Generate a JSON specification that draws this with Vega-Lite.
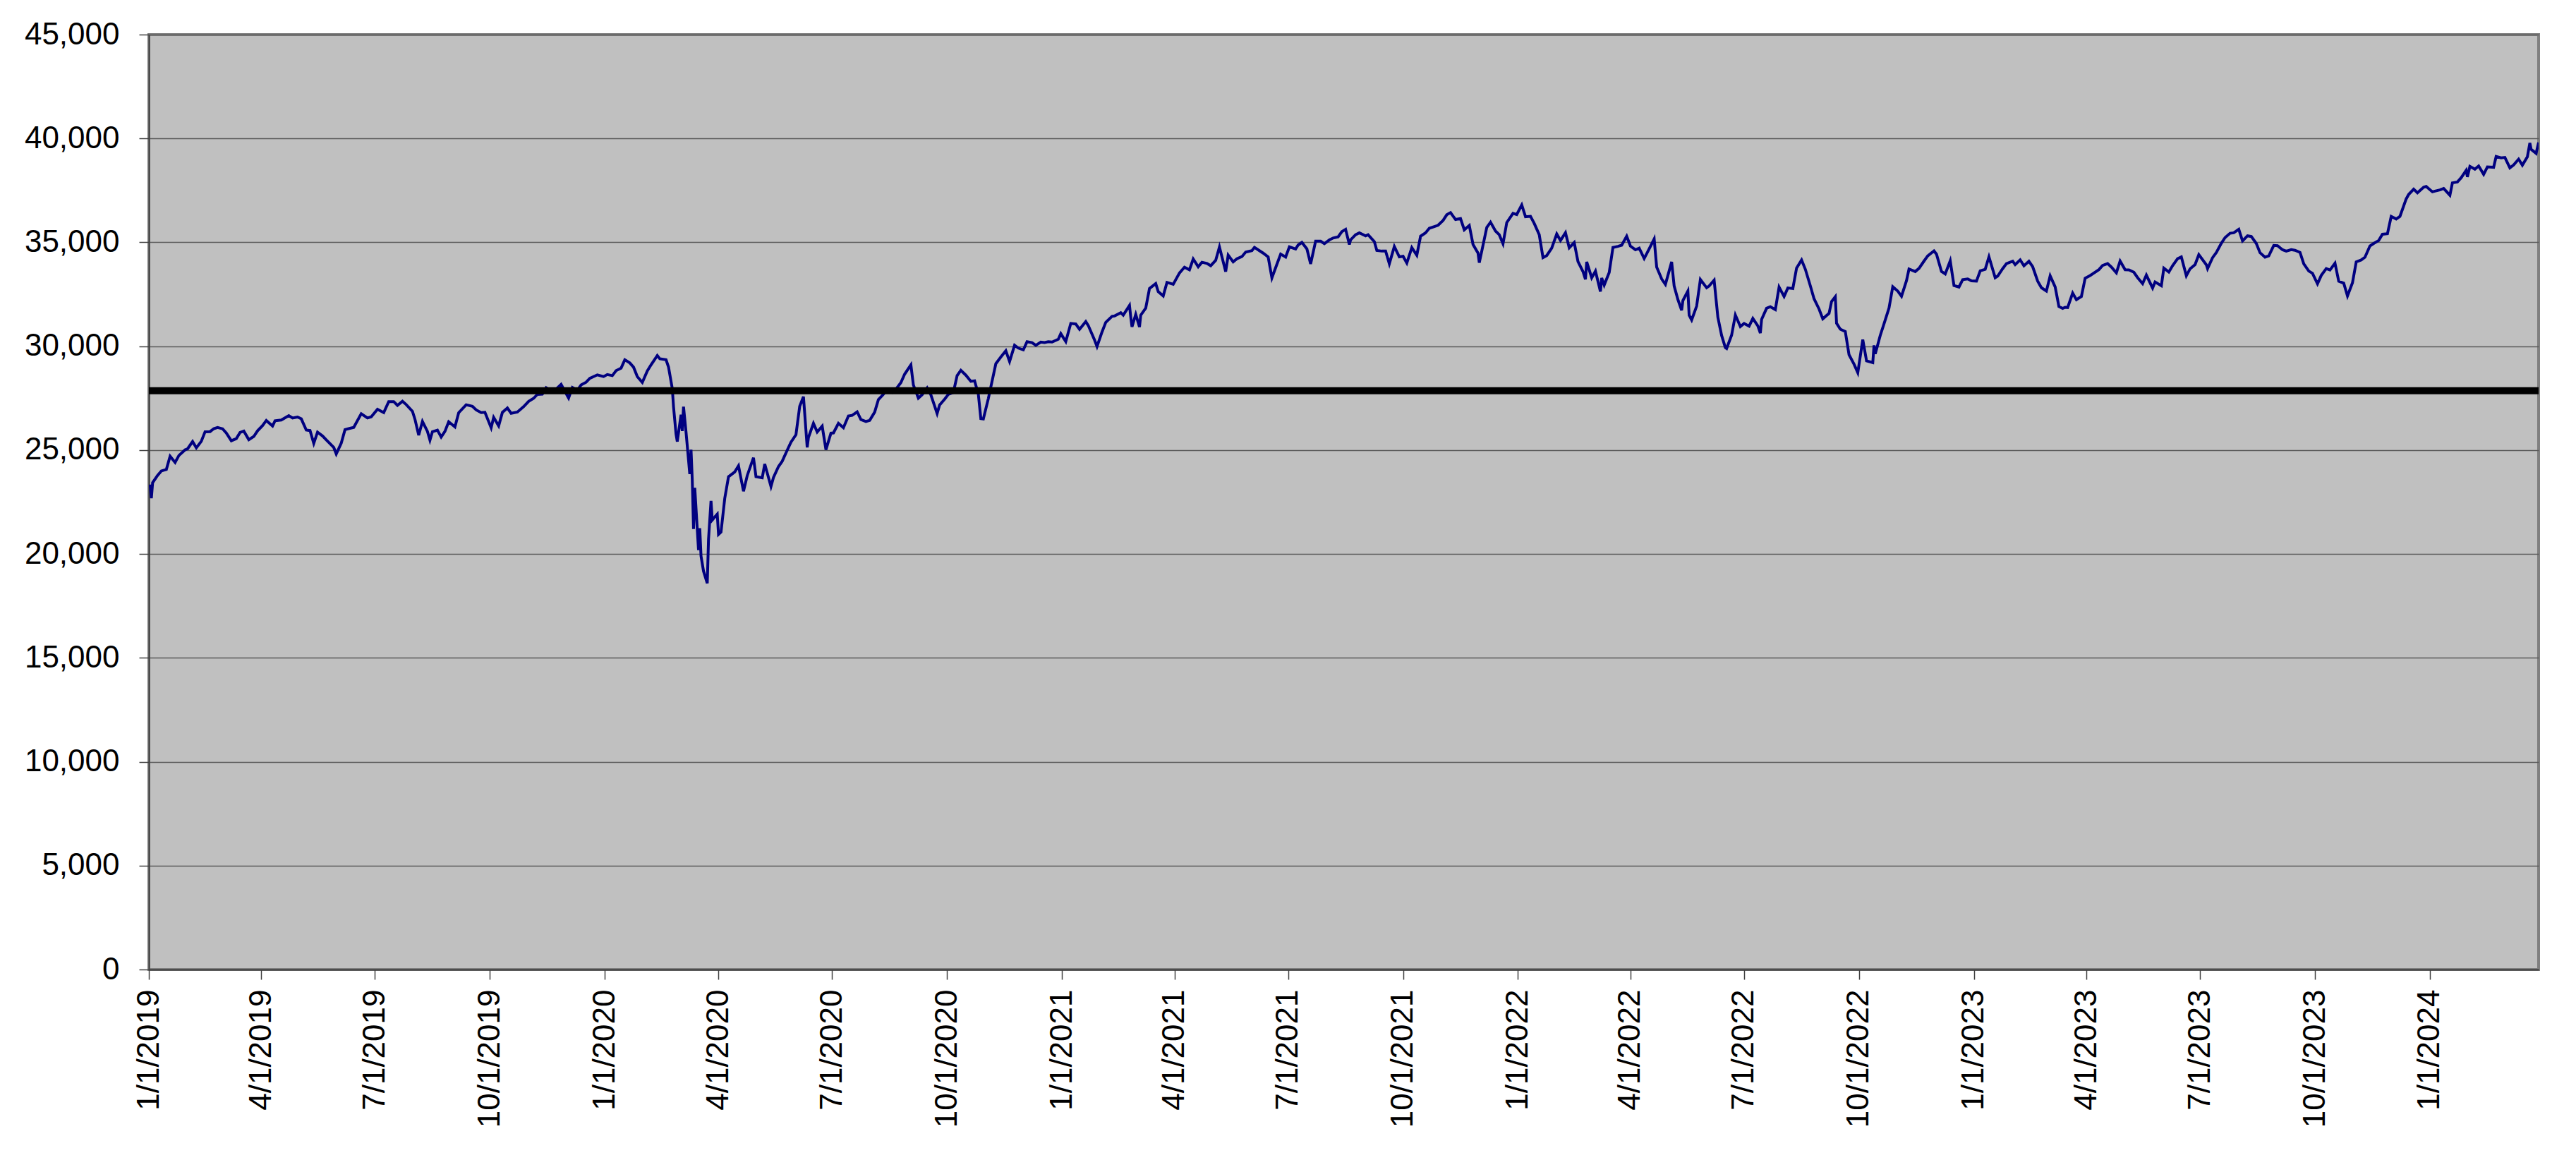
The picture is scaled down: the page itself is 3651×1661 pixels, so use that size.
{
  "$schema": "https://vega.github.io/schema/vega-lite/v6.json",
  "autosize": "none",
  "width": 3387,
  "height": 1325,
  "padding": {"left": 211, "top": 49, "right": 53, "bottom": 287},
  "background": "white",
  "config": {
    "view": {"fill": "#C0C0C0", "stroke": "#808080", "strokeWidth": 4},
    "axis": {
      "labelFont": "Liberation Sans",
      "labelFontSize": 44,
      "labelColor": "black",
      "labelLimit": 0,
      "tickColor": "#404040",
      "tickWidth": 1.5,
      "tickSize": 14,
      "domainColor": "#404040",
      "domainWidth": 2,
      "title": null
    }
  },
  "datasets": {
    "dow": [
      {"d": "2019-01-02", "v": 23346}, {"d": "2019-01-03", "v": 22686}, {"d": "2019-01-04", "v": 23433}, {"d": "2019-01-08", "v": 23787},
      {"d": "2019-01-11", "v": 23996}, {"d": "2019-01-15", "v": 24066}, {"d": "2019-01-18", "v": 24706}, {"d": "2019-01-22", "v": 24404},
      {"d": "2019-01-25", "v": 24737}, {"d": "2019-01-30", "v": 25014}, {"d": "2019-02-01", "v": 25064}, {"d": "2019-02-05", "v": 25411},
      {"d": "2019-02-08", "v": 25106}, {"d": "2019-02-12", "v": 25426}, {"d": "2019-02-15", "v": 25883}, {"d": "2019-02-19", "v": 25891},
      {"d": "2019-02-22", "v": 26031}, {"d": "2019-02-25", "v": 26091}, {"d": "2019-03-01", "v": 26026}, {"d": "2019-03-04", "v": 25820},
      {"d": "2019-03-08", "v": 25450}, {"d": "2019-03-12", "v": 25555}, {"d": "2019-03-15", "v": 25849}, {"d": "2019-03-18", "v": 25914},
      {"d": "2019-03-22", "v": 25502}, {"d": "2019-03-26", "v": 25657}, {"d": "2019-03-29", "v": 25929}, {"d": "2019-04-02", "v": 26180},
      {"d": "2019-04-05", "v": 26425}, {"d": "2019-04-10", "v": 26157}, {"d": "2019-04-12", "v": 26412}, {"d": "2019-04-17", "v": 26450},
      {"d": "2019-04-23", "v": 26656}, {"d": "2019-04-26", "v": 26543}, {"d": "2019-04-30", "v": 26593}, {"d": "2019-05-03", "v": 26505},
      {"d": "2019-05-07", "v": 25965}, {"d": "2019-05-10", "v": 25942}, {"d": "2019-05-13", "v": 25324}, {"d": "2019-05-16", "v": 25863},
      {"d": "2019-05-20", "v": 25680}, {"d": "2019-05-23", "v": 25490}, {"d": "2019-05-29", "v": 25126}, {"d": "2019-05-31", "v": 24815},
      {"d": "2019-06-04", "v": 25332}, {"d": "2019-06-07", "v": 25984}, {"d": "2019-06-11", "v": 26048}, {"d": "2019-06-14", "v": 26090},
      {"d": "2019-06-20", "v": 26753}, {"d": "2019-06-25", "v": 26548}, {"d": "2019-06-28", "v": 26600}, {"d": "2019-07-03", "v": 26966},
      {"d": "2019-07-08", "v": 26806}, {"d": "2019-07-12", "v": 27332}, {"d": "2019-07-16", "v": 27335}, {"d": "2019-07-19", "v": 27154},
      {"d": "2019-07-23", "v": 27349}, {"d": "2019-07-26", "v": 27192}, {"d": "2019-07-31", "v": 26864}, {"d": "2019-08-02", "v": 26485},
      {"d": "2019-08-05", "v": 25718}, {"d": "2019-08-08", "v": 26378}, {"d": "2019-08-12", "v": 25897}, {"d": "2019-08-14", "v": 25479},
      {"d": "2019-08-16", "v": 25886}, {"d": "2019-08-20", "v": 25962}, {"d": "2019-08-23", "v": 25628}, {"d": "2019-08-26", "v": 25899},
      {"d": "2019-08-29", "v": 26362}, {"d": "2019-09-03", "v": 26118}, {"d": "2019-09-06", "v": 26797}, {"d": "2019-09-12", "v": 27182},
      {"d": "2019-09-17", "v": 27110}, {"d": "2019-09-20", "v": 26935}, {"d": "2019-09-24", "v": 26808}, {"d": "2019-09-27", "v": 26820},
      {"d": "2019-10-02", "v": 26078}, {"d": "2019-10-04", "v": 26573}, {"d": "2019-10-08", "v": 26164}, {"d": "2019-10-11", "v": 26817},
      {"d": "2019-10-15", "v": 27025}, {"d": "2019-10-18", "v": 26770}, {"d": "2019-10-23", "v": 26833}, {"d": "2019-10-28", "v": 27091},
      {"d": "2019-11-01", "v": 27347}, {"d": "2019-11-05", "v": 27492}, {"d": "2019-11-08", "v": 27681}, {"d": "2019-11-12", "v": 27691},
      {"d": "2019-11-15", "v": 28005}, {"d": "2019-11-20", "v": 27821}, {"d": "2019-11-22", "v": 27876}, {"d": "2019-11-27", "v": 28164},
      {"d": "2019-12-03", "v": 27503}, {"d": "2019-12-06", "v": 28015}, {"d": "2019-12-10", "v": 27881}, {"d": "2019-12-13", "v": 28135},
      {"d": "2019-12-17", "v": 28267}, {"d": "2019-12-20", "v": 28455}, {"d": "2019-12-26", "v": 28621}, {"d": "2019-12-31", "v": 28538},
      {"d": "2020-01-03", "v": 28635}, {"d": "2020-01-07", "v": 28584}, {"d": "2020-01-10", "v": 28824}, {"d": "2020-01-14", "v": 28940},
      {"d": "2020-01-17", "v": 29348}, {"d": "2020-01-21", "v": 29196}, {"d": "2020-01-24", "v": 28990}, {"d": "2020-01-27", "v": 28536},
      {"d": "2020-01-31", "v": 28256}, {"d": "2020-02-04", "v": 28808}, {"d": "2020-02-07", "v": 29103}, {"d": "2020-02-12", "v": 29551},
      {"d": "2020-02-14", "v": 29398}, {"d": "2020-02-19", "v": 29348}, {"d": "2020-02-21", "v": 28992}, {"d": "2020-02-24", "v": 27961},
      {"d": "2020-02-25", "v": 27081}, {"d": "2020-02-27", "v": 25767}, {"d": "2020-02-28", "v": 25409}, {"d": "2020-03-02", "v": 26703},
      {"d": "2020-03-03", "v": 25917}, {"d": "2020-03-04", "v": 27091}, {"d": "2020-03-06", "v": 25865}, {"d": "2020-03-09", "v": 23851},
      {"d": "2020-03-10", "v": 25018}, {"d": "2020-03-11", "v": 23553}, {"d": "2020-03-12", "v": 21200}, {"d": "2020-03-13", "v": 23186},
      {"d": "2020-03-16", "v": 20189}, {"d": "2020-03-17", "v": 21237}, {"d": "2020-03-18", "v": 19899}, {"d": "2020-03-20", "v": 19174},
      {"d": "2020-03-23", "v": 18592}, {"d": "2020-03-24", "v": 20705}, {"d": "2020-03-26", "v": 22552}, {"d": "2020-03-27", "v": 21637},
      {"d": "2020-03-31", "v": 21917}, {"d": "2020-04-01", "v": 20943}, {"d": "2020-04-03", "v": 21053}, {"d": "2020-04-06", "v": 22680},
      {"d": "2020-04-09", "v": 23719}, {"d": "2020-04-14", "v": 23950}, {"d": "2020-04-17", "v": 24242}, {"d": "2020-04-21", "v": 23019},
      {"d": "2020-04-24", "v": 23775}, {"d": "2020-04-29", "v": 24634}, {"d": "2020-05-01", "v": 23724}, {"d": "2020-05-06", "v": 23664},
      {"d": "2020-05-08", "v": 24331}, {"d": "2020-05-13", "v": 23248}, {"d": "2020-05-15", "v": 23685}, {"d": "2020-05-19", "v": 24207},
      {"d": "2020-05-22", "v": 24465}, {"d": "2020-05-26", "v": 24995}, {"d": "2020-05-29", "v": 25383}, {"d": "2020-06-02", "v": 25742},
      {"d": "2020-06-05", "v": 27111}, {"d": "2020-06-08", "v": 27572}, {"d": "2020-06-11", "v": 25128}, {"d": "2020-06-12", "v": 25605},
      {"d": "2020-06-16", "v": 26290}, {"d": "2020-06-19", "v": 25871}, {"d": "2020-06-23", "v": 26156}, {"d": "2020-06-26", "v": 25016},
      {"d": "2020-06-30", "v": 25813}, {"d": "2020-07-02", "v": 25827}, {"d": "2020-07-06", "v": 26287}, {"d": "2020-07-10", "v": 26075},
      {"d": "2020-07-14", "v": 26643}, {"d": "2020-07-17", "v": 26672}, {"d": "2020-07-21", "v": 26840}, {"d": "2020-07-24", "v": 26470},
      {"d": "2020-07-28", "v": 26379}, {"d": "2020-07-31", "v": 26428}, {"d": "2020-08-04", "v": 26828}, {"d": "2020-08-07", "v": 27433},
      {"d": "2020-08-11", "v": 27687}, {"d": "2020-08-14", "v": 27931}, {"d": "2020-08-18", "v": 27778}, {"d": "2020-08-21", "v": 27930},
      {"d": "2020-08-25", "v": 28249}, {"d": "2020-08-28", "v": 28654}, {"d": "2020-09-02", "v": 29100}, {"d": "2020-09-04", "v": 28133},
      {"d": "2020-09-08", "v": 27500}, {"d": "2020-09-11", "v": 27666}, {"d": "2020-09-15", "v": 27995}, {"d": "2020-09-18", "v": 27657},
      {"d": "2020-09-23", "v": 26763}, {"d": "2020-09-25", "v": 27174}, {"d": "2020-09-29", "v": 27452}, {"d": "2020-10-02", "v": 27683},
      {"d": "2020-10-06", "v": 27773}, {"d": "2020-10-09", "v": 28587}, {"d": "2020-10-12", "v": 28838}, {"d": "2020-10-16", "v": 28606},
      {"d": "2020-10-20", "v": 28309}, {"d": "2020-10-23", "v": 28336}, {"d": "2020-10-26", "v": 27685}, {"d": "2020-10-28", "v": 26520},
      {"d": "2020-10-30", "v": 26502}, {"d": "2020-11-03", "v": 27480}, {"d": "2020-11-06", "v": 28323}, {"d": "2020-11-09", "v": 29158},
      {"d": "2020-11-13", "v": 29480}, {"d": "2020-11-17", "v": 29784}, {"d": "2020-11-20", "v": 29263}, {"d": "2020-11-24", "v": 30046},
      {"d": "2020-11-27", "v": 29910}, {"d": "2020-12-01", "v": 29824}, {"d": "2020-12-04", "v": 30218}, {"d": "2020-12-08", "v": 30174},
      {"d": "2020-12-11", "v": 30046}, {"d": "2020-12-15", "v": 30200}, {"d": "2020-12-18", "v": 30179}, {"d": "2020-12-21", "v": 30216},
      {"d": "2020-12-24", "v": 30200}, {"d": "2020-12-29", "v": 30336}, {"d": "2020-12-31", "v": 30606},
      {"d": "2021-01-04", "v": 30224}, {"d": "2021-01-08", "v": 31098}, {"d": "2021-01-12", "v": 31069}, {"d": "2021-01-15", "v": 30814},
      {"d": "2021-01-20", "v": 31188}, {"d": "2021-01-22", "v": 30997}, {"d": "2021-01-27", "v": 30303}, {"d": "2021-01-29", "v": 29983},
      {"d": "2021-02-02", "v": 30688}, {"d": "2021-02-05", "v": 31148}, {"d": "2021-02-10", "v": 31438}, {"d": "2021-02-12", "v": 31458},
      {"d": "2021-02-17", "v": 31613}, {"d": "2021-02-19", "v": 31494}, {"d": "2021-02-24", "v": 31962}, {"d": "2021-02-25", "v": 31403},
      {"d": "2021-02-26", "v": 30932}, {"d": "2021-03-01", "v": 31536}, {"d": "2021-03-04", "v": 30924}, {"d": "2021-03-05", "v": 31496},
      {"d": "2021-03-09", "v": 31833}, {"d": "2021-03-12", "v": 32779}, {"d": "2021-03-17", "v": 33015}, {"d": "2021-03-19", "v": 32628},
      {"d": "2021-03-23", "v": 32423}, {"d": "2021-03-26", "v": 33073}, {"d": "2021-03-31", "v": 32982}, {"d": "2021-04-05", "v": 33527},
      {"d": "2021-04-09", "v": 33801}, {"d": "2021-04-13", "v": 33678}, {"d": "2021-04-16", "v": 34200}, {"d": "2021-04-20", "v": 33822},
      {"d": "2021-04-23", "v": 34043}, {"d": "2021-04-27", "v": 33985}, {"d": "2021-04-30", "v": 33875}, {"d": "2021-05-04", "v": 34133},
      {"d": "2021-05-07", "v": 34778}, {"d": "2021-05-12", "v": 33587}, {"d": "2021-05-14", "v": 34382}, {"d": "2021-05-18", "v": 34061},
      {"d": "2021-05-21", "v": 34208}, {"d": "2021-05-25", "v": 34313}, {"d": "2021-05-28", "v": 34529}, {"d": "2021-06-02", "v": 34600},
      {"d": "2021-06-04", "v": 34756}, {"d": "2021-06-08", "v": 34600}, {"d": "2021-06-11", "v": 34480}, {"d": "2021-06-15", "v": 34299},
      {"d": "2021-06-18", "v": 33290}, {"d": "2021-06-22", "v": 33945}, {"d": "2021-06-25", "v": 34433}, {"d": "2021-06-29", "v": 34292},
      {"d": "2021-07-02", "v": 34786}, {"d": "2021-07-07", "v": 34681}, {"d": "2021-07-09", "v": 34870}, {"d": "2021-07-12", "v": 34996},
      {"d": "2021-07-16", "v": 34687}, {"d": "2021-07-19", "v": 33962}, {"d": "2021-07-23", "v": 35061}, {"d": "2021-07-27", "v": 35058},
      {"d": "2021-07-30", "v": 34935}, {"d": "2021-08-03", "v": 35116}, {"d": "2021-08-06", "v": 35209}, {"d": "2021-08-10", "v": 35264},
      {"d": "2021-08-13", "v": 35515}, {"d": "2021-08-16", "v": 35625}, {"d": "2021-08-19", "v": 34894}, {"d": "2021-08-20", "v": 35120},
      {"d": "2021-08-24", "v": 35367}, {"d": "2021-08-27", "v": 35455}, {"d": "2021-09-01", "v": 35313}, {"d": "2021-09-03", "v": 35369},
      {"d": "2021-09-08", "v": 35031}, {"d": "2021-09-10", "v": 34607}, {"d": "2021-09-14", "v": 34578}, {"d": "2021-09-17", "v": 34584},
      {"d": "2021-09-20", "v": 33970}, {"d": "2021-09-24", "v": 34798}, {"d": "2021-09-28", "v": 34299}, {"d": "2021-10-01", "v": 34326},
      {"d": "2021-10-04", "v": 34002}, {"d": "2021-10-08", "v": 34746}, {"d": "2021-10-12", "v": 34378}, {"d": "2021-10-15", "v": 35295},
      {"d": "2021-10-19", "v": 35458}, {"d": "2021-10-22", "v": 35677}, {"d": "2021-10-26", "v": 35757}, {"d": "2021-10-29", "v": 35820},
      {"d": "2021-11-02", "v": 36053}, {"d": "2021-11-05", "v": 36328}, {"d": "2021-11-08", "v": 36432}, {"d": "2021-11-12", "v": 36100},
      {"d": "2021-11-16", "v": 36143}, {"d": "2021-11-19", "v": 35602}, {"d": "2021-11-23", "v": 35814}, {"d": "2021-11-26", "v": 34899},
      {"d": "2021-11-30", "v": 34484}, {"d": "2021-12-01", "v": 34022}, {"d": "2021-12-03", "v": 34580}, {"d": "2021-12-07", "v": 35720},
      {"d": "2021-12-10", "v": 35971}, {"d": "2021-12-14", "v": 35544}, {"d": "2021-12-17", "v": 35365}, {"d": "2021-12-20", "v": 34932},
      {"d": "2021-12-23", "v": 35950}, {"d": "2021-12-28", "v": 36398}, {"d": "2021-12-31", "v": 36338},
      {"d": "2022-01-04", "v": 36800}, {"d": "2022-01-07", "v": 36231}, {"d": "2022-01-11", "v": 36252}, {"d": "2022-01-14", "v": 35912},
      {"d": "2022-01-18", "v": 35369}, {"d": "2022-01-21", "v": 34265}, {"d": "2022-01-24", "v": 34365}, {"d": "2022-01-28", "v": 34725},
      {"d": "2022-02-01", "v": 35405}, {"d": "2022-02-04", "v": 35089}, {"d": "2022-02-08", "v": 35463}, {"d": "2022-02-11", "v": 34738},
      {"d": "2022-02-15", "v": 34989}, {"d": "2022-02-18", "v": 34079}, {"d": "2022-02-22", "v": 33597}, {"d": "2022-02-24", "v": 33223},
      {"d": "2022-02-25", "v": 34059}, {"d": "2022-03-01", "v": 33294}, {"d": "2022-03-04", "v": 33615}, {"d": "2022-03-08", "v": 32632},
      {"d": "2022-03-09", "v": 33286}, {"d": "2022-03-11", "v": 32945}, {"d": "2022-03-15", "v": 33545}, {"d": "2022-03-18", "v": 34754},
      {"d": "2022-03-22", "v": 34808}, {"d": "2022-03-25", "v": 34861}, {"d": "2022-03-29", "v": 35294}, {"d": "2022-04-01", "v": 34818},
      {"d": "2022-04-05", "v": 34642}, {"d": "2022-04-08", "v": 34721}, {"d": "2022-04-12", "v": 34221}, {"d": "2022-04-14", "v": 34451},
      {"d": "2022-04-20", "v": 35160}, {"d": "2022-04-22", "v": 33811}, {"d": "2022-04-26", "v": 33240}, {"d": "2022-04-29", "v": 32977},
      {"d": "2022-05-04", "v": 34061}, {"d": "2022-05-06", "v": 32899}, {"d": "2022-05-09", "v": 32246}, {"d": "2022-05-12", "v": 31730},
      {"d": "2022-05-13", "v": 32197}, {"d": "2022-05-17", "v": 32655}, {"d": "2022-05-18", "v": 31490}, {"d": "2022-05-20", "v": 31262},
      {"d": "2022-05-24", "v": 31929}, {"d": "2022-05-27", "v": 33213}, {"d": "2022-06-01", "v": 32813}, {"d": "2022-06-03", "v": 32900},
      {"d": "2022-06-07", "v": 33180}, {"d": "2022-06-10", "v": 31393}, {"d": "2022-06-13", "v": 30517}, {"d": "2022-06-16", "v": 29927},
      {"d": "2022-06-17", "v": 29888}, {"d": "2022-06-21", "v": 30530}, {"d": "2022-06-24", "v": 31501}, {"d": "2022-06-28", "v": 30947},
      {"d": "2022-07-01", "v": 31097}, {"d": "2022-07-05", "v": 30968}, {"d": "2022-07-08", "v": 31338}, {"d": "2022-07-12", "v": 30981},
      {"d": "2022-07-14", "v": 30630}, {"d": "2022-07-15", "v": 31288}, {"d": "2022-07-19", "v": 31827}, {"d": "2022-07-22", "v": 31899},
      {"d": "2022-07-26", "v": 31762}, {"d": "2022-07-29", "v": 32845}, {"d": "2022-08-02", "v": 32397}, {"d": "2022-08-05", "v": 32803},
      {"d": "2022-08-09", "v": 32775}, {"d": "2022-08-12", "v": 33761}, {"d": "2022-08-16", "v": 34152}, {"d": "2022-08-19", "v": 33706},
      {"d": "2022-08-23", "v": 32910}, {"d": "2022-08-26", "v": 32283}, {"d": "2022-08-30", "v": 31791}, {"d": "2022-09-02", "v": 31318},
      {"d": "2022-09-07", "v": 31581}, {"d": "2022-09-09", "v": 32151}, {"d": "2022-09-12", "v": 32381}, {"d": "2022-09-13", "v": 31105},
      {"d": "2022-09-16", "v": 30822}, {"d": "2022-09-20", "v": 30706}, {"d": "2022-09-23", "v": 29590}, {"d": "2022-09-27", "v": 29135},
      {"d": "2022-09-30", "v": 28726}, {"d": "2022-10-04", "v": 30317}, {"d": "2022-10-07", "v": 29297}, {"d": "2022-10-12", "v": 29210},
      {"d": "2022-10-13", "v": 30039}, {"d": "2022-10-14", "v": 29635}, {"d": "2022-10-18", "v": 30524}, {"d": "2022-10-21", "v": 31083},
      {"d": "2022-10-25", "v": 31837}, {"d": "2022-10-28", "v": 32862}, {"d": "2022-11-01", "v": 32653}, {"d": "2022-11-04", "v": 32403},
      {"d": "2022-11-08", "v": 33160}, {"d": "2022-11-10", "v": 33716}, {"d": "2022-11-15", "v": 33593}, {"d": "2022-11-18", "v": 33746},
      {"d": "2022-11-22", "v": 34098}, {"d": "2022-11-25", "v": 34347}, {"d": "2022-11-30", "v": 34590}, {"d": "2022-12-02", "v": 34430},
      {"d": "2022-12-06", "v": 33597}, {"d": "2022-12-09", "v": 33477}, {"d": "2022-12-13", "v": 34109}, {"d": "2022-12-16", "v": 32920},
      {"d": "2022-12-20", "v": 32850}, {"d": "2022-12-23", "v": 33204}, {"d": "2022-12-27", "v": 33241}, {"d": "2022-12-30", "v": 33147},
      {"d": "2023-01-03", "v": 33136}, {"d": "2023-01-06", "v": 33631}, {"d": "2023-01-10", "v": 33704}, {"d": "2023-01-13", "v": 34303},
      {"d": "2023-01-18", "v": 33297}, {"d": "2023-01-20", "v": 33375}, {"d": "2023-01-24", "v": 33734}, {"d": "2023-01-27", "v": 33978},
      {"d": "2023-02-01", "v": 34093}, {"d": "2023-02-03", "v": 33926}, {"d": "2023-02-07", "v": 34156}, {"d": "2023-02-10", "v": 33869},
      {"d": "2023-02-14", "v": 34089}, {"d": "2023-02-17", "v": 33827}, {"d": "2023-02-21", "v": 33130}, {"d": "2023-02-24", "v": 32817},
      {"d": "2023-02-28", "v": 32657}, {"d": "2023-03-03", "v": 33391}, {"d": "2023-03-07", "v": 32856}, {"d": "2023-03-10", "v": 31910},
      {"d": "2023-03-13", "v": 31820}, {"d": "2023-03-15", "v": 31875}, {"d": "2023-03-17", "v": 31862}, {"d": "2023-03-21", "v": 32560},
      {"d": "2023-03-24", "v": 32238}, {"d": "2023-03-28", "v": 32394}, {"d": "2023-03-31", "v": 33274}, {"d": "2023-04-04", "v": 33402},
      {"d": "2023-04-06", "v": 33485}, {"d": "2023-04-11", "v": 33685}, {"d": "2023-04-14", "v": 33886}, {"d": "2023-04-18", "v": 33977},
      {"d": "2023-04-21", "v": 33809}, {"d": "2023-04-25", "v": 33531}, {"d": "2023-04-28", "v": 34098}, {"d": "2023-05-02", "v": 33684},
      {"d": "2023-05-05", "v": 33674}, {"d": "2023-05-09", "v": 33562}, {"d": "2023-05-12", "v": 33301}, {"d": "2023-05-16", "v": 33012},
      {"d": "2023-05-19", "v": 33427}, {"d": "2023-05-24", "v": 32800}, {"d": "2023-05-26", "v": 33093}, {"d": "2023-05-31", "v": 32908},
      {"d": "2023-06-02", "v": 33763}, {"d": "2023-06-06", "v": 33573}, {"d": "2023-06-09", "v": 33877}, {"d": "2023-06-13", "v": 34212},
      {"d": "2023-06-16", "v": 34299}, {"d": "2023-06-20", "v": 33389}, {"d": "2023-06-23", "v": 33727}, {"d": "2023-06-27", "v": 33926},
      {"d": "2023-06-30", "v": 34408}, {"d": "2023-07-06", "v": 33922}, {"d": "2023-07-07", "v": 33735}, {"d": "2023-07-11", "v": 34262},
      {"d": "2023-07-14", "v": 34509}, {"d": "2023-07-18", "v": 34952}, {"d": "2023-07-21", "v": 35228}, {"d": "2023-07-25", "v": 35438},
      {"d": "2023-07-28", "v": 35459}, {"d": "2023-08-01", "v": 35630}, {"d": "2023-08-04", "v": 35066}, {"d": "2023-08-08", "v": 35314},
      {"d": "2023-08-11", "v": 35281}, {"d": "2023-08-15", "v": 34946}, {"d": "2023-08-18", "v": 34501}, {"d": "2023-08-22", "v": 34289},
      {"d": "2023-08-25", "v": 34347}, {"d": "2023-08-29", "v": 34852}, {"d": "2023-09-01", "v": 34838}, {"d": "2023-09-05", "v": 34642},
      {"d": "2023-09-08", "v": 34577}, {"d": "2023-09-12", "v": 34646}, {"d": "2023-09-15", "v": 34618}, {"d": "2023-09-19", "v": 34518},
      {"d": "2023-09-22", "v": 33964}, {"d": "2023-09-26", "v": 33619}, {"d": "2023-09-29", "v": 33508}, {"d": "2023-10-03", "v": 33002},
      {"d": "2023-10-06", "v": 33408}, {"d": "2023-10-10", "v": 33740}, {"d": "2023-10-13", "v": 33671}, {"d": "2023-10-17", "v": 33998},
      {"d": "2023-10-20", "v": 33127}, {"d": "2023-10-24", "v": 33036}, {"d": "2023-10-27", "v": 32418}, {"d": "2023-10-31", "v": 33053},
      {"d": "2023-11-03", "v": 34061}, {"d": "2023-11-07", "v": 34153}, {"d": "2023-11-10", "v": 34283}, {"d": "2023-11-14", "v": 34828},
      {"d": "2023-11-17", "v": 34947}, {"d": "2023-11-21", "v": 35088}, {"d": "2023-11-24", "v": 35390}, {"d": "2023-11-28", "v": 35416},
      {"d": "2023-12-01", "v": 36246}, {"d": "2023-12-05", "v": 36125}, {"d": "2023-12-08", "v": 36248}, {"d": "2023-12-13", "v": 37090},
      {"d": "2023-12-15", "v": 37306}, {"d": "2023-12-19", "v": 37558}, {"d": "2023-12-22", "v": 37386}, {"d": "2023-12-27", "v": 37657},
      {"d": "2023-12-29", "v": 37690},
      {"d": "2024-01-03", "v": 37430}, {"d": "2024-01-05", "v": 37466}, {"d": "2024-01-09", "v": 37525}, {"d": "2024-01-12", "v": 37593},
      {"d": "2024-01-17", "v": 37267}, {"d": "2024-01-19", "v": 37864}, {"d": "2024-01-23", "v": 37905}, {"d": "2024-01-26", "v": 38109},
      {"d": "2024-01-30", "v": 38467}, {"d": "2024-01-31", "v": 38150}, {"d": "2024-02-02", "v": 38654}, {"d": "2024-02-06", "v": 38521},
      {"d": "2024-02-09", "v": 38672}, {"d": "2024-02-13", "v": 38273}, {"d": "2024-02-16", "v": 38628}, {"d": "2024-02-21", "v": 38612},
      {"d": "2024-02-23", "v": 39131}, {"d": "2024-02-27", "v": 39069}, {"d": "2024-03-01", "v": 39087}, {"d": "2024-03-05", "v": 38585},
      {"d": "2024-03-08", "v": 38723}, {"d": "2024-03-12", "v": 39005}, {"d": "2024-03-15", "v": 38715}, {"d": "2024-03-19", "v": 39111},
      {"d": "2024-03-21", "v": 39781}, {"d": "2024-03-22", "v": 39476}, {"d": "2024-03-26", "v": 39282}, {"d": "2024-03-28", "v": 39807}
    ],
    "level": [{"level": 27860}]
  },
  "layer": [
    {
      "data": {"name": "dow"},
      "mark": {"type": "line", "color": "#000080", "strokeWidth": 4, "clip": true},
      "encoding": {
        "x": {
          "field": "d",
          "type": "temporal",
          "scale": {
            "type": "utc",
            "domain": [
              {"year": 2019, "month": 1, "date": 1, "utc": true},
              {"year": 2024, "month": 3, "date": 28, "utc": true}
            ]
          },
          "axis": {
            "grid": false,
            "tickCount": {"interval": "month", "step": 3},
            "format": "%-m/%-d/%Y",
            "labelAngle": 270,
            "labelPadding": 14,
            "labelOverlap": false,
            "labelFlush": false,
            "labelBound": false
          }
        },
        "y": {
          "field": "v",
          "type": "quantitative",
          "scale": {"domain": [0, 45000], "nice": false, "zero": true},
          "axis": {
            "values": [0, 5000, 10000, 15000, 20000, 25000, 30000, 35000, 40000, 45000],
            "format": ",d",
            "grid": true,
            "gridColor": "#5a5a5a",
            "gridWidth": 1.5,
            "labelPadding": 28,
            "labelFlush": false
          }
        }
      }
    },
    {
      "data": {"name": "level"},
      "mark": {"type": "rule", "color": "black", "strokeWidth": 10},
      "encoding": {
        "y": {"field": "level", "type": "quantitative"}
      }
    }
  ]
}
